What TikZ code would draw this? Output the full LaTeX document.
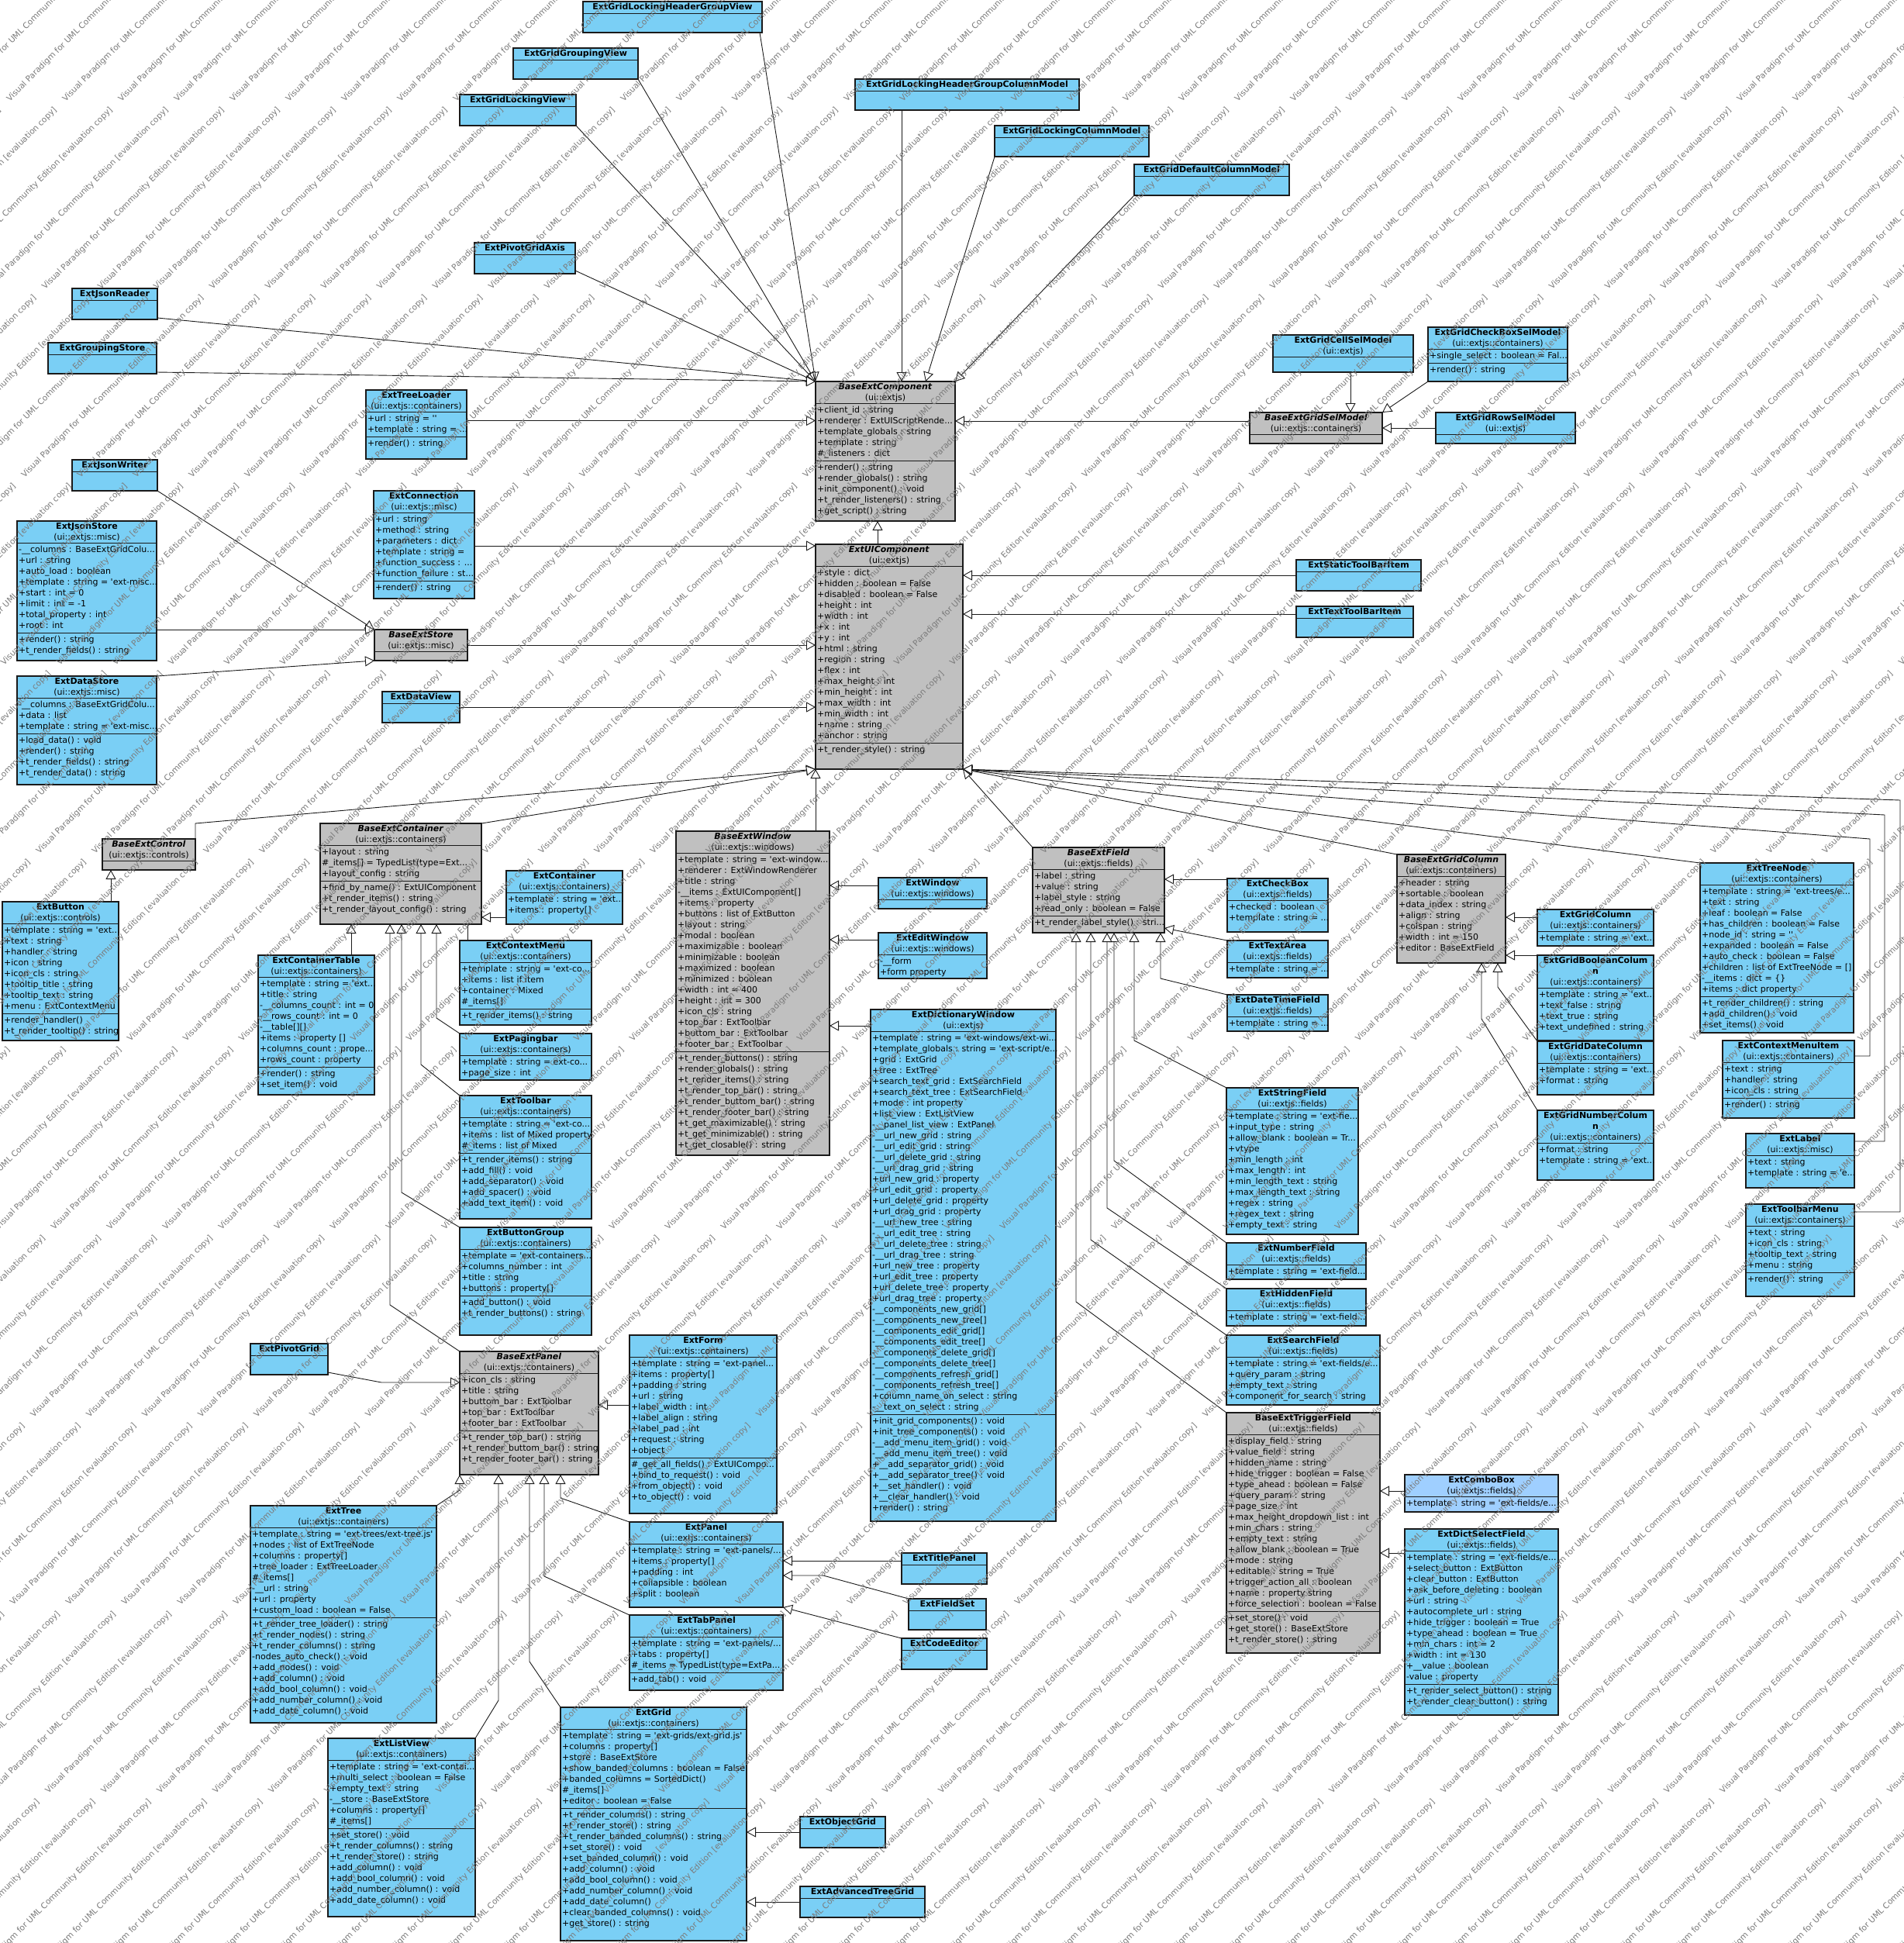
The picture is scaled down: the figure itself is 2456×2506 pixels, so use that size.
\documentclass[tikz,border=0pt]{standalone}
\usepackage{fontspec}
\setmainfont{DejaVu Sans}[Ligatures=TeXOff]
\usepackage{xcolor}
\definecolor{vpblue}{HTML}{7ACFF5}
\definecolor{vpgray}{HTML}{C0C0C0}
\definecolor{vplight}{HTML}{9FCFFF}
\definecolor{vpline}{HTML}{1A1A1A}
\definecolor{vpmark}{HTML}{7A7A7A}
\usepackage{tikz}
\usetikzlibrary{arrows.meta}
\newcommand\cstrut{\rule[-3.5pt]{0pt}{14pt}}
\newcommand\umlclass[6]{\node[#1,minimum width=#5pt,minimum height=#6pt,anchor=north west] (#2) at (#3,#4) {};}
\newcommand\umlsep[2]{\draw[sepline] ([yshift=-#2pt]#1.north west) -- ([yshift=-#2pt]#1.north east);}
\newcommand\umlhead[3]{\node[headtxt] at (#1.north) {\cstrut#3};\umlsep{#1}{#2}}
\newcommand\umlattr[3]{\node[attrtxt] at ([yshift=-#2pt]#1.north west) {\cstrut#3};}
\newcommand\wmtext{Visual Paradigm for UML Community Edition [evaluation copy]\hspace{16pt}}
\newcommand\wmrow{\wmtext\wmtext\wmtext\wmtext\wmtext\wmtext\wmtext\wmtext\wmtext\wmtext\wmtext}
\begin{document}
\catcode`\_=12
\begin{tikzpicture}[
  x=1pt, y=-1pt,
  font=\fontsize{11}{14}\selectfont,
  box/.style={rectangle,draw=vpline,line width=1.2pt,outer sep=0pt,inner sep=0pt},
  cls/.style={box,fill=vpblue},
  abscls/.style={box,fill=vpgray},
  selcls/.style={box,fill=vplight},
  headtxt/.style={anchor=north,inner sep=0pt,align=center},
  attrtxt/.style={anchor=north west,inner xsep=2pt,inner ysep=2pt,align=left},
  sepline/.style={draw=vpline,line width=1pt},
  link/.style={draw=vpline,line width=0.9pt},
  gen/.style={link,-{Triangle[open,length=12pt,width=13pt,fill=white]}},
  wmark/.style={anchor=base west,rotate=45,inner sep=0pt,text=vpmark,font=\fontsize{10.5}{12}\selectfont}
]
\useasboundingbox (0,0) rectangle (2456,2506);
\fill[white] (0,0) rectangle (2456,2506);

\umlclass{cls}{lkhdgrpview}{752}{2}{231}{40}
\umlhead{lkhdgrpview}{15}{\textbf{ExtGridLockingHeaderGroupView}}
\umlclass{cls}{groupingview}{662}{62}{161}{40}
\umlhead{groupingview}{15}{\textbf{ExtGridGroupingView}}
\umlclass{cls}{lockingview}{593}{122}{150}{40}
\umlhead{lockingview}{15}{\textbf{ExtGridLockingView}}
\umlclass{cls}{hdrgrpcolmodel}{1103}{102}{289}{40}
\umlhead{hdrgrpcolmodel}{15}{\textbf{ExtGridLockingHeaderGroupColumnModel}}
\umlclass{cls}{lkcolmodel}{1283}{162}{199}{40}
\umlhead{lkcolmodel}{15}{\textbf{ExtGridLockingColumnModel}}
\umlclass{cls}{defcolmodel}{1463}{212}{200}{40}
\umlhead{defcolmodel}{15}{\textbf{ExtGridDefaultColumnModel}}
\umlclass{cls}{pivotaxis}{612}{313}{130}{40}
\umlhead{pivotaxis}{15}{\textbf{ExtPivotGridAxis}}
\umlclass{cls}{jsonreader}{93}{372}{110}{40}
\umlhead{jsonreader}{15}{\textbf{ExtJsonReader}}
\umlclass{cls}{groupingstore}{62}{442}{140}{40}
\umlhead{groupingstore}{15}{\textbf{ExtGroupingStore}}
\umlclass{cls}{jsonwriter}{93}{593}{110}{40}
\umlhead{jsonwriter}{15}{\textbf{ExtJsonWriter}}

\umlclass{cls}{treeloader}{472}{503}{130}{89}
\umlhead{treeloader}{28}{\textbf{ExtTreeLoader}\\(ui::extjs::containers)}
\umlattr{treeloader}{28}{+url : string = ''\\+template : string = ...}
\umlsep{treeloader}{60}
\umlattr{treeloader}{60}{+render() : string}

\umlclass{cls}{connection}{482}{633}{130}{139}
\umlhead{connection}{28}{\textbf{ExtConnection}\\(ui::extjs::misc)}
\umlattr{connection}{28}{+url : string\\+method : string\\+parameters : dict\\+template : string =\\+function_success : ...\\+function_failure : st...}
\umlsep{connection}{116}
\umlattr{connection}{116}{+render() : string}

\umlclass{abscls}{basecomp}{1052}{492}{180}{180}
\umlhead{basecomp}{28}{\textbf{\textit{BaseExtComponent}}\\(ui::extjs)}
\umlattr{basecomp}{28}{+client_id : string\\+renderer : ExtUIScriptRende...\\+template_globals : string\\+template : string\\\#_listeners : dict}
\umlsep{basecomp}{102}
\umlattr{basecomp}{102}{+render() : string\\+render_globals() : string\\+init_component() : void\\+t_render_listeners() : string\\+get_script() : string}

\umlclass{cls}{cellsel}{1642}{432}{181}{48}
\umlhead{cellsel}{28}{\textbf{ExtGridCellSelModel}\\(ui::extjs)}
\umlclass{cls}{checkboxsel}{1842}{422}{180}{70}
\umlhead{checkboxsel}{28}{\textbf{ExtGridCheckBoxSelModel}\\(ui::extjs::containers)}
\umlattr{checkboxsel}{28}{+single_select : boolean = Fal...}
\umlsep{checkboxsel}{46}
\umlattr{checkboxsel}{46}{+render() : string}
\umlclass{abscls}{basegridsel}{1612}{532}{171}{40}
\umlhead{basegridsel}{28}{\textbf{\textit{BaseExtGridSelModel}}\\(ui::extjs::containers)}
\umlclass{cls}{rowsel}{1852}{532}{180}{40}
\umlhead{rowsel}{28}{\textbf{ExtGridRowSelModel}\\(ui::extjs)}

\umlclass{cls}{jsonstore}{22}{672}{180}{180}
\umlhead{jsonstore}{28}{\textbf{ExtJsonStore}\\(ui::extjs::misc)}
\umlattr{jsonstore}{28}{-__columns : BaseExtGridColu...\\+url : string\\+auto_load : boolean\\+template : string = 'ext-misc...\\+start : int = 0\\+limit : int = -1\\+total_property : int\\+root : int}
\umlsep{jsonstore}{144}
\umlattr{jsonstore}{144}{+render() : string\\+t_render_fields() : string}

\umlclass{cls}{datastore}{22}{872}{180}{140}
\umlhead{datastore}{28}{\textbf{ExtDataStore}\\(ui::extjs::misc)}
\umlattr{datastore}{28}{-__columns : BaseExtGridColu...\\+data : list\\+template : string = 'ext-misc...}
\umlsep{datastore}{74}
\umlattr{datastore}{74}{+load_data() : void\\+render() : string\\+t_render_fields() : string\\+t_render_data() : string}

\umlclass{abscls}{basestore}{483}{812}{120}{40}
\umlhead{basestore}{28}{\textbf{\textit{BaseExtStore}}\\(ui::extjs::misc)}
\umlclass{cls}{dataview}{493}{892}{100}{40}
\umlhead{dataview}{15}{\textbf{ExtDataView}}

\umlclass{abscls}{uicomp}{1052}{702}{190}{290}
\umlhead{uicomp}{28}{\textbf{\textit{ExtUIComponent}}\\(ui::extjs)}
\umlattr{uicomp}{28}{+style : dict\\+hidden : boolean = False\\+disabled : boolean = False\\+height : int\\+width : int\\+x : int\\+y : int\\+html : string\\+region : string\\+flex : int\\+max_height : int\\+min_height : int\\+max_width : int\\+min_width : int\\+name : string\\+anchor : string}
\umlsep{uicomp}{256}
\umlattr{uicomp}{256}{+t_render_style() : string}

\umlclass{cls}{statictbitem}{1672}{722}{161}{40}
\umlhead{statictbitem}{15}{\textbf{ExtStaticToolBarItem}}
\umlclass{cls}{texttbitem}{1672}{782}{151}{40}
\umlhead{texttbitem}{15}{\textbf{ExtTextToolBarItem}}

\umlclass{abscls}{basecontrol}{132}{1082}{120}{40}
\umlhead{basecontrol}{28}{\textbf{\textit{BaseExtControl}}\\(ui::extjs::controls)}

\umlclass{abscls}{basecontainer}{413}{1062}{208}{130}
\umlhead{basecontainer}{28}{\textbf{\textit{BaseExtContainer}}\\(ui::extjs::containers)}
\umlattr{basecontainer}{28}{+layout : string\\\#_items[] = TypedList(type=Ext...\\+layout_config : string}
\umlsep{basecontainer}{74}
\umlattr{basecontainer}{74}{+find_by_name() : ExtUIComponent\\+t_render_items() : string\\+t_render_layout_config() : string}

\umlclass{cls}{container}{653}{1123}{150}{69}
\umlhead{container}{28}{\textbf{ExtContainer}\\(ui::extjs::containers)}
\umlattr{container}{28}{+template : string = 'ext...\\+items : property[]}

\umlclass{cls}{button}{3}{1163}{150}{179}
\umlhead{button}{28}{\textbf{ExtButton}\\(ui::extjs::controls)}
\umlattr{button}{28}{+template : string = 'ext...\\+text : string\\+handler : string\\+icon : string\\+icon_cls : string\\+tooltip_title : string\\+tooltip_text : string\\+menu : ExtContextMenu}
\umlsep{button}{144}
\umlattr{button}{144}{+render_handler()\\+t_render_tooltip() : string}

\umlclass{cls}{containertable}{333}{1232}{150}{180}
\umlhead{containertable}{28}{\textbf{ExtContainerTable}\\(ui::extjs::containers)}
\umlattr{containertable}{28}{+template : string = 'ext...\\+title : string\\-__columns_count : int = 0\\-__rows_count : int = 0\\-__table[][]\\+items : property []\\+columns_count : prope...\\+rows_count : property}
\umlsep{containertable}{144}
\umlattr{containertable}{144}{+render() : string\\+set_item() : void}

\umlclass{cls}{contextmenu}{593}{1213}{170}{109}
\umlhead{contextmenu}{28}{\textbf{ExtContextMenu}\\(ui::extjs::containers)}
\umlattr{contextmenu}{28}{+template : string = 'ext-co...\\+items : list if item\\+container : Mixed\\\#_items[]}
\umlsep{contextmenu}{88}
\umlattr{contextmenu}{88}{+t_render_items() : string}

\umlclass{cls}{pagingbar}{593}{1333}{170}{60}
\umlhead{pagingbar}{28}{\textbf{ExtPagingbar}\\(ui::extjs::containers)}
\umlattr{pagingbar}{28}{+template : string = ext-co...\\+page_size : int}

\umlclass{cls}{toolbar}{593}{1413}{170}{159}
\umlhead{toolbar}{28}{\textbf{ExtToolbar}\\(ui::extjs::containers)}
\umlattr{toolbar}{28}{+template : string = 'ext-co...\\+items : list of Mixed property\\\#_items : list of Mixed}
\umlsep{toolbar}{74}
\umlattr{toolbar}{74}{+t_render_items() : string\\+add_fill() : void\\+add_separator() : void\\+add_spacer() : void\\+add_text_item() : void}

\umlclass{cls}{buttongroup}{593}{1583}{170}{139}
\umlhead{buttongroup}{28}{\textbf{ExtButtonGroup}\\(ui::extjs::containers)}
\umlattr{buttongroup}{28}{+template = 'ext-containers...\\+columns_number : int\\+title : string\\+buttons :  property[]}
\umlsep{buttongroup}{88}
\umlattr{buttongroup}{88}{+add_button() : void\\+t_render_buttons() : string}

\umlclass{cls}{pivotgrid}{323}{1733}{100}{40}
\umlhead{pivotgrid}{15}{\textbf{ExtPivotGrid}}

\umlclass{abscls}{basepanel}{593}{1743}{179}{159}
\umlhead{basepanel}{28}{\textbf{\textit{BaseExtPanel}}\\(ui::extjs::containers)}
\umlattr{basepanel}{28}{+icon_cls : string\\+title : string\\+buttom_bar : ExtToolbar\\+top_bar : ExtToolbar\\+footer_bar : ExtToolbar}
\umlsep{basepanel}{102}
\umlattr{basepanel}{102}{+t_render_top_bar() : string\\+t_render_buttom_bar() : string\\+t_render_footer_bar() : string}

\umlclass{abscls}{basewindow}{872}{1072}{198}{418}
\umlhead{basewindow}{28}{\textbf{\textit{BaseExtWindow}}\\(ui::extjs::windows)}
\umlattr{basewindow}{28}{+template : string = 'ext-window...\\+renderer : ExtWindowRenderer\\+title : string\\-__items : ExtUIComponent[]\\+items : property\\+buttons : list of ExtButton\\+layout : string\\+modal : boolean\\+maximizable : boolean\\+minimizable : boolean\\+maximized : boolean\\+minimized : boolean\\+width : int = 400\\+height : int = 300\\+icon_cls : string\\+top_bar : ExtToolbar\\+buttom_bar : ExtToolbar\\+footer_bar : ExtToolbar}
\umlsep{basewindow}{284}
\umlattr{basewindow}{284}{+t_render_buttons() : string\\+render_globals() : string\\+t_render_items() : string\\+t_render_top_bar() : string\\+t_render_buttom_bar() : string\\+t_render_footer_bar() : string\\+t_get_maximizable() : string\\+t_get_minimizable() : string\\+t_get_closable() : string}

\umlclass{cls}{window}{1133}{1132}{140}{40}
\umlhead{window}{28}{\textbf{ExtWindow}\\(ui::extjs::windows)}
\umlclass{cls}{editwindow}{1133}{1203}{140}{59}
\umlhead{editwindow}{28}{\textbf{ExtEditWindow}\\(ui::extjs::windows)}
\umlattr{editwindow}{28}{-__form\\+form property}

\umlclass{abscls}{basefield}{1332}{1093}{170}{110}
\umlhead{basefield}{28}{\textbf{\textit{BaseExtField}}\\(ui::extjs::fields)}
\umlattr{basefield}{28}{+label : string\\+value : string\\+label_style : string\\+read_only : boolean = False}
\umlsep{basefield}{88}
\umlattr{basefield}{88}{+t_render_label_style() : stri...}

\umlclass{cls}{checkbox}{1583}{1133}{130}{69}
\umlhead{checkbox}{28}{\textbf{ExtCheckBox}\\(ui::extjs::fields)}
\umlattr{checkbox}{28}{+checked : boolean\\+template : string = ...}
\umlclass{cls}{textarea}{1583}{1213}{130}{48}
\umlhead{textarea}{28}{\textbf{ExtTextArea}\\(ui::extjs::fields)}
\umlattr{textarea}{28}{+template : string = ...}
\umlclass{cls}{datetimefield}{1583}{1283}{130}{47}
\umlhead{datetimefield}{28}{\textbf{ExtDateTimeField}\\(ui::extjs::fields)}
\umlattr{datetimefield}{28}{+template : string = ...}

\umlclass{abscls}{basegridcolumn}{1802}{1102}{140}{140}
\umlhead{basegridcolumn}{28}{\textbf{\textit{BaseExtGridColumn}}\\(ui::extjs::containers)}
\umlattr{basegridcolumn}{28}{+header : string\\+sortable : boolean\\+data_index : string\\+align : string\\+colspan : string\\+width : int = 150\\+editor : BaseExtField}

\umlclass{cls}{gridcolumn}{1983}{1173}{150}{47}
\umlhead{gridcolumn}{28}{\textbf{ExtGridColumn}\\(ui::extjs::containers)}
\umlattr{gridcolumn}{28}{+template : string = 'ext...}
\umlclass{cls}{gridboolcolumn}{1983}{1232}{150}{110}
\umlhead{gridboolcolumn}{42}{\textbf{ExtGridBooleanColum}\\\textbf{n}\\(ui::extjs::containers)}
\umlattr{gridboolcolumn}{42}{+template : string = 'ext...\\+text_false : string\\+text_true : string\\+text_undefined : string}
\umlclass{cls}{griddatecolumn}{1983}{1343}{150}{69}
\umlhead{griddatecolumn}{28}{\textbf{ExtGridDateColumn}\\(ui::extjs::containers)}
\umlattr{griddatecolumn}{28}{+template : string = 'ext...\\+format : string}
\umlclass{cls}{gridnumcolumn}{1983}{1432}{150}{90}
\umlhead{gridnumcolumn}{42}{\textbf{ExtGridNumberColum}\\\textbf{n}\\(ui::extjs::containers)}
\umlattr{gridnumcolumn}{42}{+format : string\\+template : string = 'ext...}

\umlclass{cls}{treenode}{2193}{1113}{198}{219}
\umlhead{treenode}{28}{\textbf{ExtTreeNode}\\(ui::extjs::containers)}
\umlattr{treenode}{28}{+template : string = 'ext-trees/e...\\+text : string\\+leaf : boolean = False\\+has_children : boolean = False\\+node_id : string = ''\\+expanded : boolean = False\\+auto_check : boolean = False\\+children : list of ExtTreeNode = []\\-__items : dict = \{\}\\+items : dict property}
\umlsep{treenode}{172}
\umlattr{treenode}{172}{+t_render_children() : string\\+add_children() : void\\+set_items() : void}

\umlclass{cls}{contextmenuitem}{2222}{1342}{170}{100}
\umlhead{contextmenuitem}{28}{\textbf{ExtContextMenuItem}\\(ui::extjs::containers)}
\umlattr{contextmenuitem}{28}{+text : string\\+handler : string\\+icon_cls : string}
\umlsep{contextmenuitem}{74}
\umlattr{contextmenuitem}{74}{+render() : string}

\umlclass{cls}{extlabel}{2252}{1462}{140}{70}
\umlhead{extlabel}{28}{\textbf{ExtLabel}\\(ui::extjs::misc)}
\umlattr{extlabel}{28}{+text : string\\+template : string = 'e...}

\umlclass{cls}{toolbarmenu}{2252}{1553}{140}{119}
\umlhead{toolbarmenu}{28}{\textbf{ExtToolbarMenu}\\(ui::extjs::containers)}
\umlattr{toolbarmenu}{28}{+text : string\\+icon_cls : string\\+tooltip_text : string\\+menu : string}
\umlsep{toolbarmenu}{88}
\umlattr{toolbarmenu}{88}{+render() : string}

\umlclass{cls}{stringfield}{1582}{1403}{170}{189}
\umlhead{stringfield}{28}{\textbf{ExtStringField}\\(ui::extjs::fields)}
\umlattr{stringfield}{28}{+template : string = 'ext-fie...\\+input_type : string\\+allow_blank : boolean = Tr...\\+vtype\\+min_length : int\\+max_length : int\\+min_length_text : string\\+max_length_text : string\\+regex : string\\+regex_text : string\\+empty_text : string}

\umlclass{cls}{numberfield}{1582}{1603}{180}{47}
\umlhead{numberfield}{28}{\textbf{ExtNumberField}\\(ui::extjs::fields)}
\umlattr{numberfield}{28}{+template : string = 'ext-field...}
\umlclass{cls}{hiddenfield}{1582}{1662}{180}{48}
\umlhead{hiddenfield}{28}{\textbf{ExtHiddenField}\\(ui::extjs::fields)}
\umlattr{hiddenfield}{28}{+template : string = 'ext-field...}
\umlclass{cls}{searchfield}{1582}{1722}{198}{90}
\umlhead{searchfield}{28}{\textbf{ExtSearchField}\\(ui::extjs::fields)}
\umlattr{searchfield}{28}{+template : string = 'ext-fields/e...\\+query_param : string\\+empty_text : string\\+component_for_search : string}

\umlclass{abscls}{basetrigger}{1582}{1822}{198}{310}
\umlhead{basetrigger}{28}{\textbf{BaseExtTriggerField}\\(ui::extjs::fields)}
\umlattr{basetrigger}{28}{+display_field : string\\+value_field : string\\+hidden_name : string\\+hide_trigger : boolean = False\\+type_ahead : boolean = False\\+query_param : string\\+page_size : int\\+max_height_dropdown_list : int\\+min_chars : string\\+empty_text : string\\+allow_blank : boolean = True\\+mode : string\\+editable : string = True\\+trigger_action_all : boolean\\+name :  property string\\+force_selection : boolean = False}
\umlsep{basetrigger}{256}
\umlattr{basetrigger}{256}{+set_store() : void\\+get_store() : BaseExtStore\\+t_render_store() : string}

\umlclass{selcls}{combobox}{1812}{1902}{198}{48}
\umlhead{combobox}{28}{\textbf{ExtComboBox}\\(ui::extjs::fields)}
\umlattr{combobox}{28}{+template : string = 'ext-fields/e...}

\umlclass{cls}{dictselect}{1812}{1972}{198}{240}
\umlhead{dictselect}{28}{\textbf{ExtDictSelectField}\\(ui::extjs::fields)}
\umlattr{dictselect}{28}{+template : string = 'ext-fields/e...\\+select_button : ExtButton\\+clear_button : ExtButton\\+ask_before_deleting : boolean\\+url : string\\+autocomplete_url : string\\+hide_trigger : boolean = True\\+type_ahead : boolean = True\\+min_chars : int = 2\\+width : int = 130\\+__value : boolean\\-value : property}
\umlsep{dictselect}{200}
\umlattr{dictselect}{200}{+t_render_select_button() : string\\+t_render_clear_button() : string}

\umlclass{cls}{dictwindow}{1123}{1302}{239}{660}
\umlhead{dictwindow}{28}{\textbf{ExtDictionaryWindow}\\(ui::extjs)}
\umlattr{dictwindow}{28}{+template : string = 'ext-windows/ext-wi...\\+template_globals : string = 'ext-script/e...\\+grid : ExtGrid\\+tree : ExtTree\\+search_text_grid : ExtSearchField\\+search_text_tree : ExtSearchField\\+mode : int property\\+list_view : ExtListView\\-__panel_list_view : ExtPanel\\-__url_new_grid : string\\-__url_edit_grid : string\\-__url_delete_grid : string\\-__url_drag_grid : string\\+url_new_grid : property\\+url_edit_grid : property\\+url_delete_grid : property\\+url_drag_grid : property\\-__url_new_tree : string\\-__url_edit_tree : string\\-__url_delete_tree : string\\-__url_drag_tree : string\\+url_new_tree : property\\+url_edit_tree : property\\+url_delete_tree : property\\+url_drag_tree : property\\-__components_new_grid[]\\-__components_new_tree[]\\-__components_edit_grid[]\\-__components_edit_tree[]\\-__components_delete_grid[]\\-__components_delete_tree[]\\-__components_refresh_grid[]\\-__components_refresh_tree[]\\+column_name_on_select : string\\-__text_on_select : string}
\umlsep{dictwindow}{522}
\umlattr{dictwindow}{522}{+init_grid_components() : void\\+init_tree_components() : void\\-__add_menu_item_grid() : void\\-__add_menu_item_tree() : void\\+__add_separator_grid() : void\\+__add_separator_tree() : void\\+__set_handler() : void\\+__clear_handler() : void\\+render() : string}

\umlclass{cls}{form}{812}{1722}{190}{230}
\umlhead{form}{28}{\textbf{ExtForm}\\(ui::extjs::containers)}
\umlattr{form}{28}{+template : string = 'ext-panel...\\+items :  property[]\\+padding : string\\+url : string\\+label_width : int\\+label_align : string\\+label_pad : int\\+request : string\\+object}
\umlsep{form}{158}
\umlattr{form}{158}{\#_get_all_fields() : ExtUICompo...\\+bind_to_request() : void\\+from_object() : void\\+to_object() : void}

\umlclass{cls}{panel}{812}{1963}{198}{110}
\umlhead{panel}{28}{\textbf{ExtPanel}\\(ui::extjs::containers)}
\umlattr{panel}{28}{+template : string = 'ext-panels/...\\+items :  property[]\\+padding : int\\+collapsible : boolean\\+split : boolean}

\umlclass{cls}{tabpanel}{812}{2083}{198}{97}
\umlhead{tabpanel}{28}{\textbf{ExtTabPanel}\\(ui::extjs::containers)}
\umlattr{tabpanel}{28}{+template : string = 'ext-panels/...\\+tabs :  property[]\\\#_items = TypedList(type=ExtPa...}
\umlsep{tabpanel}{74}
\umlattr{tabpanel}{74}{+add_tab() : void}

\umlclass{cls}{titlepanel}{1163}{2003}{110}{40}
\umlhead{titlepanel}{15}{\textbf{ExtTitlePanel}}
\umlclass{cls}{fieldset}{1172}{2062}{100}{40}
\umlhead{fieldset}{15}{\textbf{ExtFieldSet}}
\umlclass{cls}{codeeditor}{1163}{2113}{110}{40}
\umlhead{codeeditor}{15}{\textbf{ExtCodeEditor}}

\umlclass{cls}{grid}{723}{2202}{240}{301}
\umlhead{grid}{28}{\textbf{ExtGrid}\\(ui::extjs::containers)}
\umlattr{grid}{28}{+template : string = 'ext-grids/ext-grid.js'\\+columns :  property[]\\+store : BaseExtStore\\+show_banded_columns : boolean = False\\+banded_columns = SortedDict()\\\#_items[]\\+editor : boolean = False}
\umlsep{grid}{130}
\umlattr{grid}{130}{+t_render_columns() : string\\+t_render_store() : string\\+t_render_banded_columns() : string\\+set_store() : void\\+set_banded_column() : void\\+add_column() : void\\+add_bool_column() : void\\+add_number_column() : void\\+add_date_column()\\+clear_banded_columns() : void\\+get_store() : string}

\umlclass{cls}{tree}{323}{1942}{240}{280}
\umlhead{tree}{28}{\textbf{ExtTree}\\(ui::extjs::containers)}
\umlattr{tree}{28}{+template : string = 'ext-trees/ext-tree.js'\\+nodes : list of ExtTreeNode\\+columns :  property[]\\+tree_loader : ExtTreeLoader\\\#_items[]\\-__url : string\\+url : property\\+custom_load : boolean = False}
\umlsep{tree}{144}
\umlattr{tree}{144}{+t_render_tree_loader() : string\\+t_render_nodes() : string\\+t_render_columns() : string\\-nodes_auto_check() : void\\+add_nodes() : void\\+add_column() : void\\+add_bool_column() : void\\+add_number_column() : void\\+add_date_column() : void}

\umlclass{cls}{listview}{423}{2242}{190}{230}
\umlhead{listview}{28}{\textbf{ExtListView}\\(ui::extjs::containers)}
\umlattr{listview}{28}{+template : string = 'ext-contai...\\+multi_select : boolean = False\\+empty_text : string\\-__store : BaseExtStore\\+columns : property[]\\\#_items[]}
\umlsep{listview}{116}
\umlattr{listview}{116}{+set_store() : void\\+t_render_columns() : string\\+t_render_store() : string\\+add_column() : void\\+add_bool_column() : void\\+add_number_column() : void\\+add_date_column() : void}

\umlclass{cls}{objectgrid}{1032}{2343}{110}{40}
\umlhead{objectgrid}{15}{\textbf{ExtObjectGrid}}
\umlclass{cls}{advtreegrid}{1032}{2433}{161}{40}
\umlhead{advtreegrid}{15}{\textbf{ExtAdvancedTreeGrid}}

\draw[gen] ([xshift=-3pt]lkhdgrpview.south east) -- (basecomp.north west);
\draw[gen] (groupingview.south east) -- (basecomp.north west);
\draw[gen] (lockingview.south east) -- (basecomp.north west);
\draw[gen] ([yshift=4pt]pivotaxis.south east) -- (basecomp.north west);
\draw[gen] ([yshift=2pt]jsonreader.south east) -- (basecomp.north west);
\draw[gen] ([yshift=2pt]groupingstore.south east) -- (basecomp.north west);
\draw[gen] ([yshift=5pt]treeloader.east) -- ([yshift=5pt]treeloader.east -| basecomp.west);
\draw[gen] ([xshift=60pt]hdrgrpcolmodel.south west) -- ([xshift=60pt]hdrgrpcolmodel.south west |- basecomp.north);
\draw[gen] (lkcolmodel.south west) -- ([xshift=142pt]basecomp.north west);
\draw[gen] (defcolmodel.south west) -- (basecomp.north east);
\draw[gen] ([yshift=9pt]basegridsel.west) -- ([yshift=9pt]basegridsel.west -| basecomp.east);
\draw[gen] ([xshift=80pt]uicomp.north west) -- ([xshift=80pt]basecomp.south west);
\draw[gen] ([xshift=100pt]cellsel.south west) -- ([xshift=100pt]cellsel.south west |- basegridsel.north);
\draw[gen] (checkboxsel.south west) -- (basegridsel.north east);
\draw[gen] (rowsel.west) -- (basegridsel.east);

\draw[gen] (jsonwriter.south east) -- (basestore.north west);
\draw[gen] (jsonstore.east |- basestore.north) -- (basestore.north west);
\draw[gen] (datastore.north east) -- (basestore.south west);
\draw[gen] (basestore.east) -- (basestore.east -| uicomp.west);
\draw[gen] ([yshift=-2pt]uicomp.north west -| connection.east) -- ([yshift=-2pt]uicomp.north west);
\draw[gen] (dataview.east) -- (dataview.east -| uicomp.west);
\draw[gen] (basecontrol.north east) -- ++(0,-20) -- (uicomp.south west);
\draw[gen] (basecontainer.north east) -- (uicomp.south west);
\draw[gen] ([xshift=180pt]basewindow.north west) -- ([xshift=180pt]basewindow.north west |- uicomp.south);
\draw[gen] (basefield.north west) -- (uicomp.south east);
\draw[gen] (statictbitem.west) -- (statictbitem.west -| uicomp.east);
\draw[gen] ([yshift=10pt]texttbitem.west) -- ([yshift=10pt]texttbitem.west -| uicomp.east);
\draw[gen] (basegridcolumn.north west) -- (uicomp.south east);
\draw[gen] (treenode.north west) -- (uicomp.south east);
\draw[gen] ([yshift=-20pt]contextmenuitem.north east) -- ++(20,0) -- (2412,1082) -- (uicomp.south east);
\draw[gen] ([yshift=-10pt]extlabel.north east) -- ++(39,0) -- (2431,1051) -- (uicomp.south east);
\draw[gen] ([yshift=-10pt]toolbarmenu.north east) -- ++(59,0) -- (2451,1032) -- (uicomp.south east);

\draw[gen] ([xshift=140pt]button.north west) -- ([xshift=140pt]button.north west |- basecontrol.south);
\draw[gen] ([yshift=-60pt]container.north west) -- ([yshift=-60pt]container.north west -| basecontainer.east);
\draw[gen] ([xshift=120pt]containertable.north west) -- ([xshift=120pt]containertable.north west |- basecontainer.south);
\draw[link] ([xshift=10pt]contextmenu.north west) -- ([xshift=10pt]contextmenu.north west |- basecontainer.south);
\draw[gen] (pagingbar.north west) -- (563,1313) -- ([xshift=150pt]basecontainer.south west);
\draw[gen] (toolbar.north west) -- (543,1373) -- ([xshift=130pt]basecontainer.south west);
\draw[gen] (buttongroup.north west) -- (518,1538) -- ([xshift=105pt]basecontainer.south west);
\draw[gen] (basepanel.north west) -- (503,1683) -- ([xshift=90pt]basecontainer.south west);

\draw[gen] ([yshift=3pt]pivotgrid.south east) -- (492,1783) -- ([yshift=-40pt]basepanel.north west);
\draw[gen] ([yshift=-90pt]form.north west) -- ([yshift=-90pt]form.north west -| basepanel.east);
\draw[gen] (tree.north east) -- (593,1922) -- (basepanel.south west);
\draw[gen] (listview.north east) -- (643,2193) -- ([xshift=50pt]basepanel.south west);
\draw[gen] (grid.north west) -- (683,2143) -- ([xshift=90pt]basepanel.south west);
\draw[gen] (tabpanel.north west) -- (702,2033) -- ([xshift=109pt]basepanel.south west);
\draw[gen] (panel.north west) -- (723,1932) -- ([xshift=130pt]basepanel.south west);
\draw[gen] ([yshift=-10pt]titlepanel.north west) -- ([yshift=-10pt]titlepanel.north west -| panel.east);
\draw[gen] (fieldset.north west) -- (1062,2032) -- ([yshift=-69pt]panel.north east);
\draw[gen] (codeeditor.north west) -- (panel.south east);
\draw[gen] (objectgrid.west) -- (objectgrid.west -| grid.east);
\draw[gen] (advtreegrid.west) -- (advtreegrid.west -| grid.east);

\draw[gen] ([yshift=-10pt]window.north west) -- ([yshift=-10pt]window.north west -| basewindow.east);
\draw[gen] ([yshift=-9pt]editwindow.north west) -- ([yshift=-9pt]editwindow.north west -| basewindow.east);
\draw[gen] ([yshift=-21pt]dictwindow.north west) -- ([yshift=-21pt]dictwindow.north west -| basewindow.east);

\draw[gen] ([yshift=-1pt]checkbox.north west) -- ([yshift=-1pt]checkbox.north west -| basefield.east);
\draw[gen] (textarea.north west) -- ([yshift=-104pt]basefield.north east);
\draw[gen] (datetimefield.north west) -- (1497,1262) -- ([xshift=-5pt]basefield.south east);
\draw[gen] (stringfield.north west) -- (1463,1342) -- ([xshift=131pt]basefield.south west);
\draw[gen] (numberfield.north west) -- (1437,1497) -- ([xshift=105pt]basefield.south west);
\draw[gen] (hiddenfield.north west) -- (1428,1558) -- ([xshift=96pt]basefield.south west);
\draw[gen] (searchfield.north west) -- (1407,1599) -- ([xshift=75pt]basefield.south west);
\draw[gen] (basetrigger.north west) -- (1388,1679) -- ([xshift=56pt]basefield.south west);
\draw[gen] ([yshift=-21pt]combobox.north west) -- ([yshift=-21pt]combobox.north west -| basetrigger.east);
\draw[gen] ([yshift=-31pt]dictselect.north west) -- ([yshift=-31pt]dictselect.north west -| basetrigger.east);

\draw[gen] ([yshift=-10pt]gridcolumn.north west) -- ([yshift=-10pt]gridcolumn.north west -| basegridcolumn.east);
\draw[gen] (gridboolcolumn.north west) -- (gridboolcolumn.north west -| basegridcolumn.east);
\draw[gen] (griddatecolumn.north west) -- (1932,1273) -- ([xshift=130pt]basegridcolumn.south west);
\draw[gen] (gridnumcolumn.north west) -- (1911,1314) -- ([xshift=109pt]basegridcolumn.south west);

\begin{scope}
\clip (0,0) rectangle (2456,2506);
\foreach \wmpos in {0,72,...,5040}
  \node[wmark] at (\wmpos-2556,2556) {\wmrow};
\end{scope}
\end{tikzpicture}
\end{document}
